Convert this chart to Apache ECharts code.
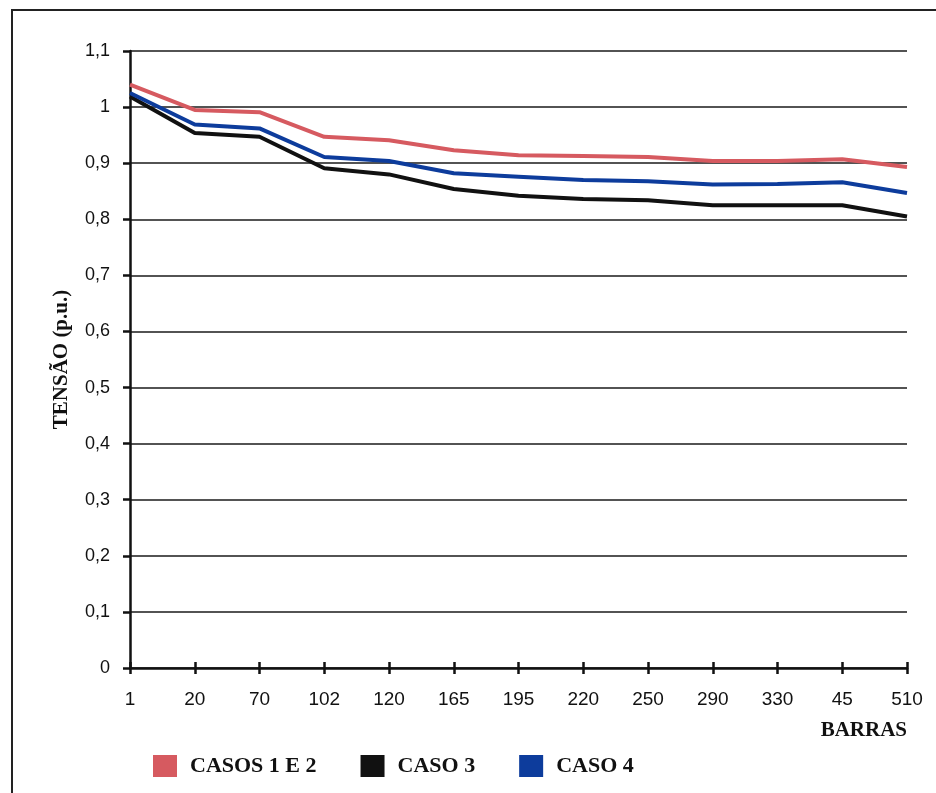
<!DOCTYPE html>
<html>
<head>
<meta charset="utf-8">
<script src="https://cdn.jsdelivr.net/npm/echarts@6/dist/echarts.min.js"></script>
<style>
  html, body { margin: 0; padding: 0; background: #fff; }
  #chart { width: 936px; height: 793px; }
</style>
</head>
<body>
<div id="chart"></div>
<script>
// Bus identifiers along the feeder
const barras = ['1', '20', '70', '102', '120', '165', '195', '220', '250', '290', '330', '45', '510'];

// Bus voltage (p.u.) for each case
const casos1e2 = [1.040, 0.995, 0.991, 0.947, 0.941, 0.923, 0.914, 0.913, 0.911, 0.904, 0.904, 0.907, 0.893];
const caso3    = [1.019, 0.954, 0.947, 0.891, 0.880, 0.854, 0.842, 0.836, 0.834, 0.825, 0.825, 0.825, 0.805];
const caso4    = [1.025, 0.969, 0.962, 0.911, 0.904, 0.882, 0.876, 0.870, 0.868, 0.862, 0.863, 0.866, 0.847];

// Voltage axis range and step
const yMin = 0, yMax = 1.1, yStep = 0.1;

const serifBold = { fontFamily: 'Liberation Serif', fontWeight: 'bold', color: '#111' };
const sansFont = { fontFamily: 'Liberation Sans', color: '#111' };

const chart = echarts.init(document.getElementById('chart'));

function lineSeries(name, data, color) {
  return {
    name: name,
    type: 'line',
    data: data,
    symbol: 'none',
    lineStyle: { color: color, width: 4 },
    itemStyle: { color: color },
    z: 5
  };
}

chart.setOption({
  animation: false,
  backgroundColor: '#fff',
  grid: { left: 130, right: 29, top: 51, bottom: 125 },
  legend: {
    left: 148,
    top: 750,
    icon: 'rect',
    itemWidth: 24,
    itemHeight: 22,
    itemGap: 44,
    textStyle: Object.assign({ fontSize: 22, padding: [0, 0, 0, 8] }, serifBold),
    data: ['CASOS 1 E 2', 'CASO 3', 'CASO 4']
  },
  xAxis: [{
    type: 'category',
    data: barras,
    boundaryGap: false,
    axisLine: { lineStyle: { color: '#111', width: 2.5 } },
    axisTick: { show: true, length: 6, lineStyle: { color: '#111', width: 2.5 } },
    axisLabel: Object.assign({ margin: 22, fontSize: 19 }, sansFont),
    splitLine: { show: false },
    name: 'BARRAS',
    nameLocation: 'end',
    nameGap: 0,
    nameTextStyle: Object.assign({ fontSize: 21, align: 'right', verticalAlign: 'top', padding: [52, 0, 0, 0] }, serifBold)
  }, {
    // inner half of the crossing tick marks on the category axis
    type: 'category',
    data: barras,
    boundaryGap: false,
    position: 'bottom',
    axisLine: { show: false },
    axisTick: { show: true, inside: true, length: 6, lineStyle: { color: '#111', width: 2.5 } },
    axisLabel: { show: false },
    splitLine: { show: false }
  }],
  yAxis: {
    type: 'value',
    min: yMin,
    max: yMax,
    interval: yStep,
    axisLine: { show: true, lineStyle: { color: '#111', width: 2.5 } },
    axisTick: { show: true, length: 7, lineStyle: { color: '#111', width: 2.5 } },
    axisLabel: Object.assign({
      margin: 20,
      fontSize: 18,
      formatter: v => String(+v.toFixed(1)).replace('.', ',')
    }, sansFont),
    splitLine: { show: true, lineStyle: { color: '#1a1a1a', width: 1.6 } },
    name: 'TENSÃO (p.u.)',
    nameLocation: 'middle',
    nameRotate: 90,
    nameGap: 58,
    nameTextStyle: Object.assign({ fontSize: 21 }, serifBold)
  },
  graphic: [{
    // frame along the top and left edges
    type: 'polyline',
    shape: { points: [[12, 793], [12, 10], [936, 10]] },
    style: { stroke: '#222', lineWidth: 2, fill: null }
  }],
  series: [
    lineSeries('CASOS 1 E 2', casos1e2, '#d65a60'),
    lineSeries('CASO 3', caso3, '#111111'),
    lineSeries('CASO 4', caso4, '#0d3c9c')
  ]
});
</script>
</body>
</html>
